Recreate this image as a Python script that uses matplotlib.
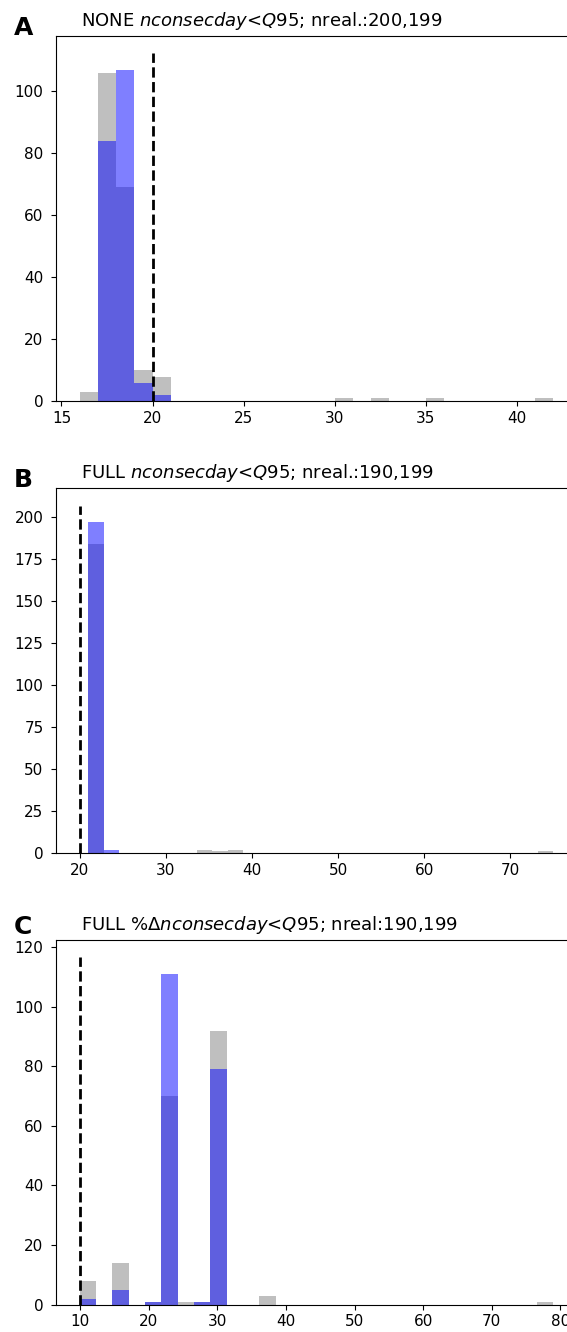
import numpy as np
import matplotlib
matplotlib.use('Agg')
import matplotlib.pyplot as plt

plt.rcParams['font.family'] = ['DejaVu Sans']
plt.rcParams['font.size'] = 11
plt.rcParams['ytick.major.pad'] = 5.5

# panel A: bins of width 1, indexed by left edge
a_edges = np.arange(16, 43)
a_gray_left = [16, 17, 18, 19, 20, 30, 32, 35, 41]
a_gray_counts = [3, 106, 69, 10, 8, 1, 1, 1, 1]
a_blue_left = [17, 18, 19, 20]
a_blue_counts = [84, 107, 6, 2]
a_thresh = 20

# panel B: 30 bins between 21 and 75 (bin index)
b_edges = np.linspace(21, 75, 31)
b_gray_bins = [0, 7, 8, 9, 29]
b_gray_counts = [184, 2, 1, 2, 1]
b_blue_bins = [0, 1]
b_blue_counts = [197, 2]
b_thresh = 20

# panel C: percent change (bin index)
c_edges = np.linspace(9.9, 79.0, 30)
c_gray_bins = [0, 2, 4, 5, 6, 7, 8, 11, 28]
c_gray_counts = [8, 14, 1, 70, 1, 1, 92, 3, 1]
c_blue_bins = [0, 2, 4, 5, 7, 8]
c_blue_counts = [2, 5, 1, 111, 1, 79]
c_thresh = 10

a_gray_bins = [v - a_edges[0] for v in a_gray_left]
a_blue_bins = [v - a_edges[0] for v in a_blue_left]

panels = [
	('A', r'NONE $nconsecday$<$Q$95; nreal.:200,199', a_edges, a_gray_bins, a_gray_counts, a_blue_bins, a_blue_counts, a_thresh),
	('B', r'FULL $nconsecday$<$Q$95; nreal.:190,199', b_edges, b_gray_bins, b_gray_counts, b_blue_bins, b_blue_counts, b_thresh),
	('C', r'FULL %$\Delta nconsecday$<$Q$95; nreal:190,199', c_edges, c_gray_bins, c_gray_counts, c_blue_bins, c_blue_counts, c_thresh),
]

W, H = 567, 1332
fig = plt.figure(figsize=(W / 100, H / 100), dpi=100)

tops = [35.7, 488.3, 940.0]
bottoms = [401.3, 853.0, 1304.7]
letter_y = [35, 487, 934]
left, right = 56, 577

def centers(edges, idx):
	mids = (edges[:-1] + edges[1:]) / 2
	return [mids[i] for i in idx]

for i, (letter, title, edges, gb, gc, bb, bc, thr) in enumerate(panels):
	h = bottoms[i] - tops[i]
	ax = fig.add_axes([left / W, 1 - bottoms[i] / H, (right - left) / W, h / H])
	ax.hist(centers(edges, gb), bins=edges, weights=gc, color='gray', alpha=0.5)
	ax.hist(centers(edges, bb), bins=edges, weights=bc, color='blue', alpha=0.5)
	ymax = max(max(gc), max(bc)) * 1.05
	ax.vlines(thr, 0, ymax, colors='k', linestyles='--', linewidth=2)
	ax.text((81 - left) / (right - left), 1 + 10 / h, title,
		transform=ax.transAxes, fontsize=13, ha='left', va='baseline')
	fig.text(14 / W, 1 - letter_y[i] / H, letter, fontsize=18, fontweight='bold',
		ha='left', va='baseline')

fig.savefig('out.png', dpi=100)
